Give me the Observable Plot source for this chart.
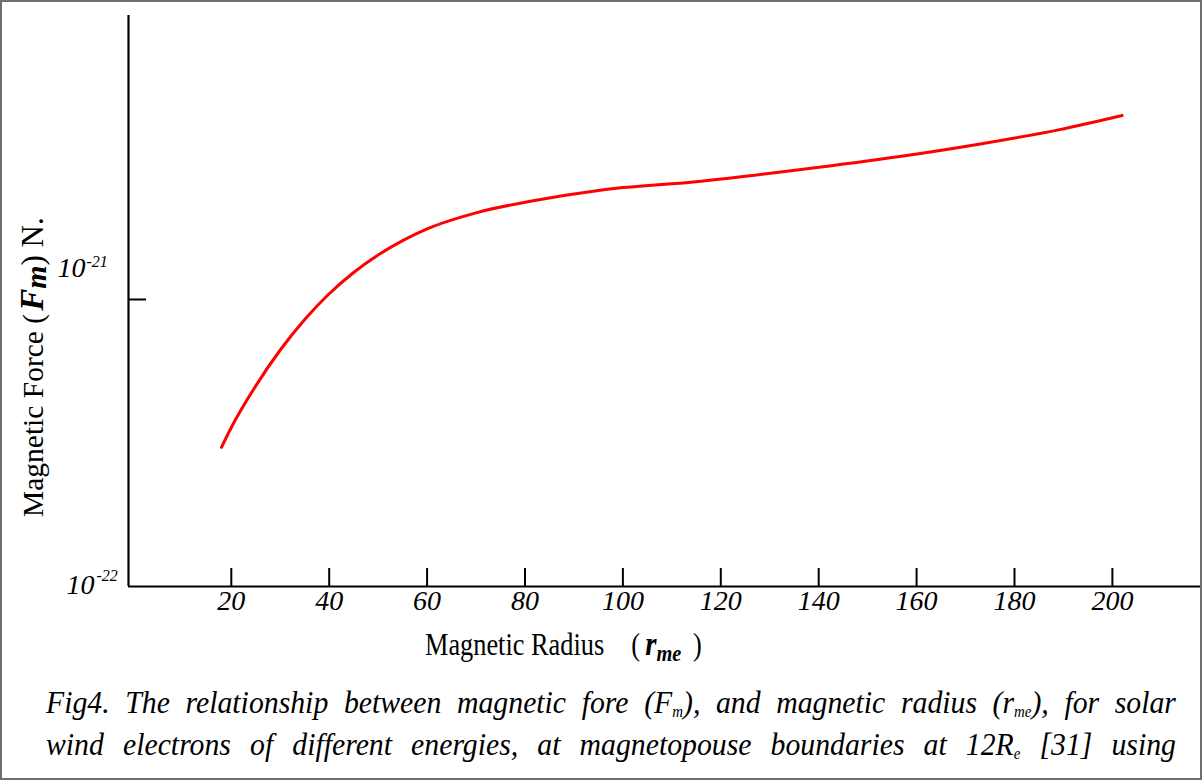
<!DOCTYPE html>
<html>
<head>
<meta charset="utf-8">
<script src="https://cdn.jsdelivr.net/npm/d3@7"></script>
<script src="https://cdn.jsdelivr.net/npm/@observablehq/plot@0.6"></script>
<style>
  html, body { margin: 0; padding: 0; background: #fff; }
  #fig { position: relative; width: 1202px; height: 780px; overflow: hidden; background: #fff; }
  #border { position: absolute; inset: 0; border: 2px solid #6f6f6f; box-sizing: border-box; pointer-events: none; }
  #chart svg { display: block; }
  #caption {
    position: absolute; left: 46px; top: 684px; width: 1215px;
    transform: scaleX(0.93); transform-origin: 0 0;
    font: italic 32px "Liberation Serif", "Times New Roman", serif;
    line-height: 37px; color: #000;
  }
  #caption div { text-align: justify; text-align-last: justify; }
  #caption .sub { font-size: 0.5em; position: relative; top: 0.25em; }
</style>
</head>
<body>
<div id="fig">
  <div id="chart"></div>
  <div id="caption">
    <div>Fig4. The relationship between magnetic fore (F<span class="sub">m</span>), and magnetic radius (r<span class="sub">me</span>), for solar</div>
    <div>wind electrons of different energies, at magnetopouse boundaries at 12R<span class="sub">e</span> [31] using</div>
  </div>
  <div id="border"></div>
</div>
<script>
// Magnetic radius r_me (x) and magnetic force F_m in newtons (y, log scale)
const radius = [18, 20, 25, 30, 35, 40, 45, 50, 55, 60, 70, 82, 95, 116, 136, 156.5, 173, 189, 202];
const force = [3.055e-22, 3.58e-22, 5.00e-22, 6.668e-22, 8.52e-22, 1.047e-21, 1.242e-21, 1.429e-21,
               1.603e-21, 1.762e-21, 2.004e-21, 2.213e-21, 2.399e-21, 2.582e-21, 2.831e-21, 3.148e-21,
               3.483e-21, 3.899e-21, 4.375e-21];

// Axis ticks
const xTicks = [20, 40, 60, 80, 100, 120, 140, 160, 180, 200];
const yTicks = [1e-22, 1e-21];
const yTickExp = ["-22", "-21"];

const xDomain = [-1, 218];
const yDomain = [1e-22, 9.76e-21];

const rows = radius.map((r, i) => ({r, f: force[i]}));
const serif = "'Liberation Serif', 'Times New Roman', serif";

const expLabel = (i, dxBase, dyBase, dxExp, dyExp) => [
  Plot.text([yTicks[i]], {y: d => d, frameAnchor: "left", text: () => "10", textAnchor: "end",
    dx: dxBase, dy: dyBase, fontSize: 28, fontStyle: "italic", fill: "#000"}),
  Plot.text([yTicks[i]], {y: d => d, frameAnchor: "left", text: () => yTickExp[i], textAnchor: "start",
    dx: dxExp, dy: dyExp, fontSize: 16, fontStyle: "italic", fill: "#000"})
];

const chart = Plot.plot({
  width: 1202,
  height: 670,
  marginLeft: 128,
  marginRight: 2,
  marginTop: 15,
  marginBottom: 84,
  style: {fontFamily: serif, background: "transparent", overflow: "visible"},
  x: {domain: xDomain, axis: null},
  y: {type: "log", domain: yDomain, axis: null},
  marks: [
    // axis lines
    Plot.ruleX([xDomain[0]], {stroke: "#000", strokeWidth: 2.2}),
    Plot.ruleY([yDomain[0]], {stroke: "#000", strokeWidth: 2.2}),
    // inward ticks
    Plot.tickX(xTicks, {x: d => d, insetTop: 571 - 18, stroke: "#000", strokeWidth: 2}),
    Plot.tickY([yTicks[1]], {y: d => d, insetRight: 1072 - 18, stroke: "#000", strokeWidth: 2}),
    // x tick labels
    Plot.text(xTicks, {x: d => d, frameAnchor: "bottom", dy: 23, text: d => String(d),
      fontSize: 28, fontStyle: "italic", fill: "#000"}),
    // y tick labels as powers of ten
    ...expLabel(0, -34, -1, -32, -11),
    ...expLabel(1, -43, -31, -42, -38),
    // force curve
    Plot.line(rows, {x: "r", y: "f", stroke: "#ff0000", strokeWidth: 3, curve: "monotone-x"})
  ]
});

document.getElementById("chart").appendChild(chart);

// Axis titles with bold italic symbols and subscripts
const svg = d3.select(chart);
const bi = sel => sel.attr("font-weight", "bold").attr("font-style", "italic");

const xl = svg.append("text")
  .attr("transform", "translate(425,655) scale(0.85,1)")
  .attr("text-anchor", "start")
  .attr("font-size", 31).attr("fill", "#000");
xl.append("tspan").text("Magnetic Radius");
xl.append("tspan").attr("dx", 32).text("(");
bi(xl.append("tspan")).attr("dx", 6).attr("font-size", 34).text("r");
bi(xl.append("tspan")).attr("font-size", 24).attr("dy", 6).text("me");
xl.append("tspan").attr("dx", 6).attr("dy", -6).text(" )");

const yl = svg.append("text")
  .attr("transform", "translate(43,517) rotate(-90)")
  .attr("text-anchor", "start")
  .attr("font-size", 29.5).attr("fill", "#000");
yl.append("tspan").text("Magnetic Force (");
bi(yl.append("tspan")).attr("dx", 3).attr("font-size", 33).text("F");
bi(yl.append("tspan")).attr("font-size", 30).attr("dy", 3).text("m");
yl.append("tspan").attr("dy", -3).attr("font-size", 31).text(") N.");
</script>
</body>
</html>
